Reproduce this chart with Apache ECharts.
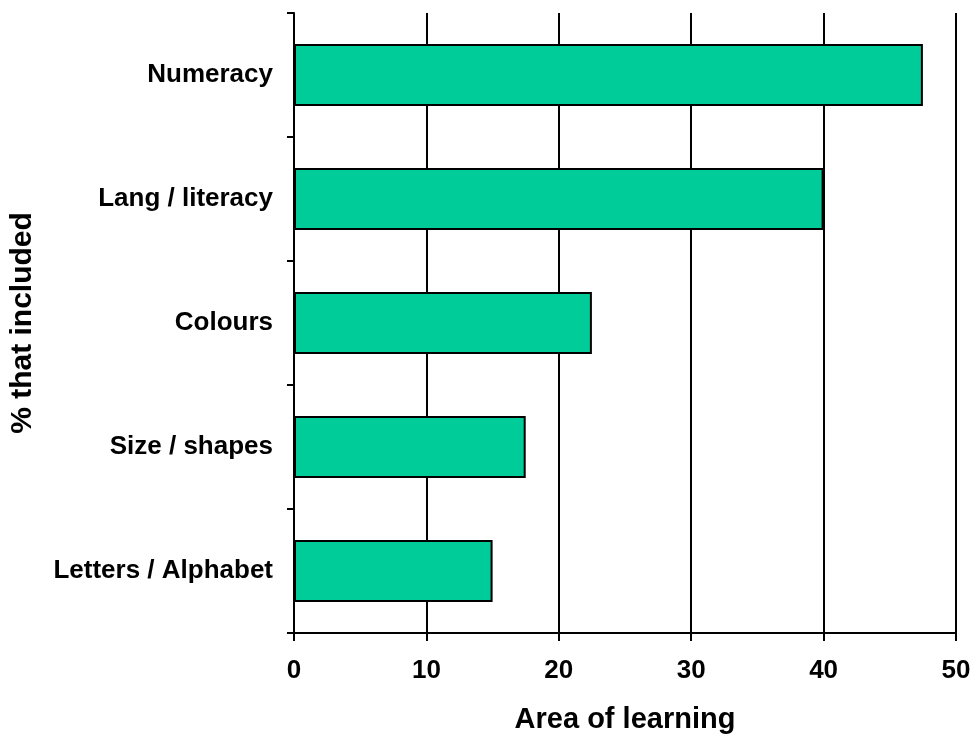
<!DOCTYPE html>
<html><head><meta charset="utf-8">
<script src="https://cdn.jsdelivr.net/npm/echarts@6/dist/echarts.min.js"></script>
<style>html,body{margin:0;padding:0;background:#fff}#c{width:973px;height:738px}</style>
</head><body><div id="c"></div>
<script>
var categories = ['Letters / Alphabet', 'Size / shapes', 'Colours', 'Lang / literacy', 'Numeracy'];
var values = [15, 17.5, 22.5, 40, 47.5];
var xTicks = [0, 10, 20, 30, 40, 50];
var xName = 'Area of learning';
var yName = '% that included';

var chart = echarts.init(document.getElementById('c'));
var font = 'Liberation Sans, Arial, sans-serif';
chart.setOption({
  animation: false,
  backgroundColor: '#fff',
  grid: {left: 294, top: 13, right: 17, bottom: 105, containLabel: false, outerBoundsMode: 'none'},
  xAxis: {
    type: 'value', min: xTicks[0], max: xTicks[xTicks.length - 1], interval: 10,
    name: xName, nameLocation: 'middle', nameGap: 72,
    nameTextStyle: {fontFamily: font, fontWeight: 'bold', fontSize: 29, color: '#000'},
    axisLine: {show: true, lineStyle: {color: '#000', width: 2}},
    axisTick: {show: true, length: 8, lineStyle: {color: '#000', width: 2}},
    axisLabel: {fontFamily: font, fontWeight: 'bold', fontSize: 26, color: '#000', margin: 25},
    splitLine: {show: true, lineStyle: {color: '#000', width: 2}}
  },
  yAxis: {
    type: 'category', data: categories,
    name: yName, nameLocation: 'middle', nameGap: 256, nameRotate: 90,
    nameTextStyle: {fontFamily: font, fontWeight: 'bold', fontSize: 30, color: '#000'},
    axisLine: {show: true, lineStyle: {color: '#000', width: 2}},
    axisTick: {show: true, length: 7, alignWithLabel: false, lineStyle: {color: '#000', width: 2}},
    axisLabel: {fontFamily: font, fontWeight: 'bold', fontSize: 26, color: '#000', margin: 21},
    splitLine: {show: false}
  },
  series: [{
    type: 'bar', data: values, barCategoryGap: '50%',
    itemStyle: {color: '#00CC99', borderColor: '#000', borderWidth: 2}
  }]
});
</script></body></html>
